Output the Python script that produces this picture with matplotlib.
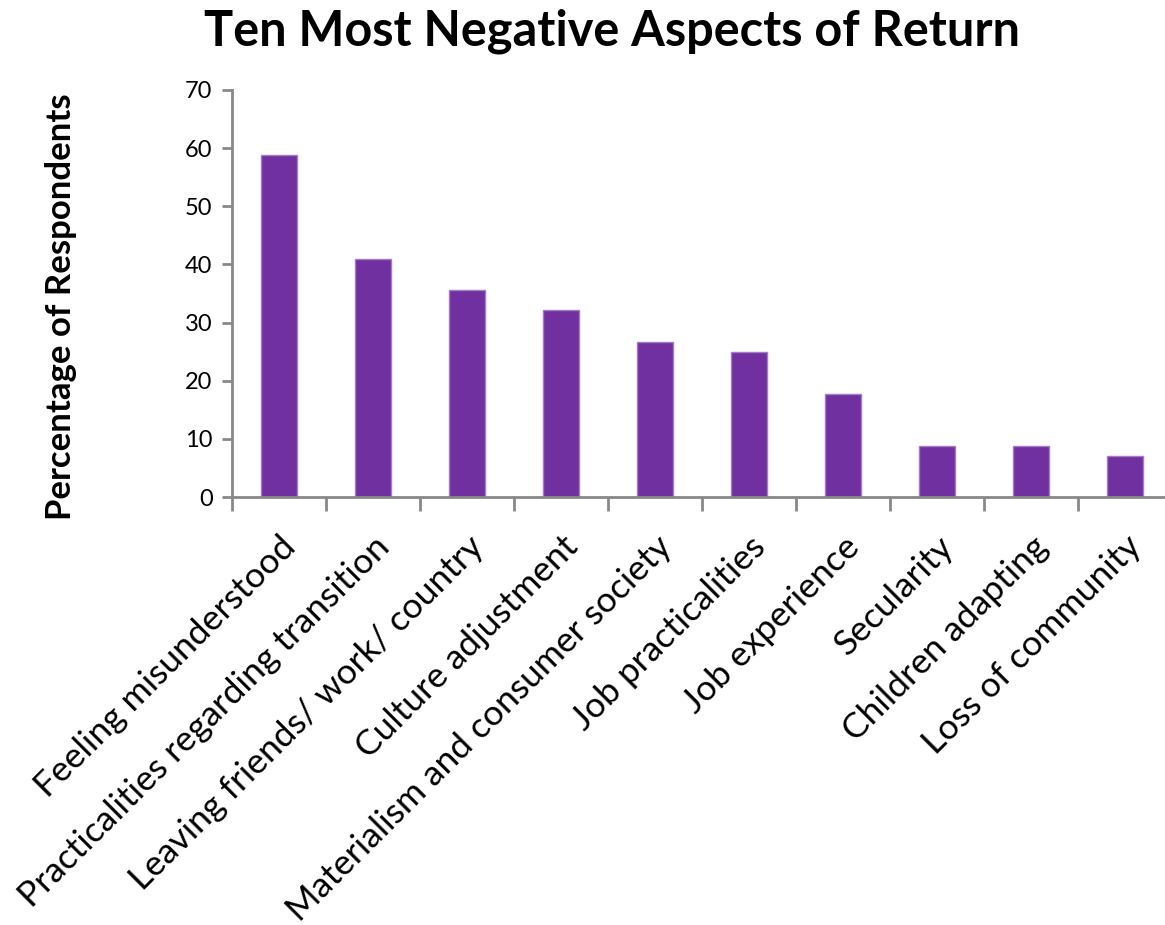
import numpy as np
import matplotlib
matplotlib.use('Agg')
import matplotlib.pyplot as plt

aspects = ['Feeling misunderstood', 'Practicalities regarding transition',
           'Leaving friends/ work/ country', 'Culture adjustment',
           'Materialism and consumer society', 'Job practicalities',
           'Job experience', 'Secularity', 'Children adapting',
           'Loss of community']
percent = [58.8, 41.0, 35.6, 32.1, 26.6, 24.9, 17.7, 8.8, 8.8, 7.1]
y_ticks = [0, 10, 20, 30, 40, 50, 60, 70]

plt.rcParams['font.family'] = ['Lato', 'DejaVu Sans']

fig = plt.figure(figsize=(11.65, 9.25), dpi=100)
ax = fig.add_axes([232 / 1165, 428 / 925, 940 / 1165, 407 / 925])

x = np.arange(len(aspects))
ax.bar(x, percent, width=0.38, color='#7030A0', edgecolor='#a67bc6', linewidth=1)

ax.set_xlim(-0.5, len(aspects) - 0.5)
ax.set_ylim(0, 70)
ax.set_yticks(y_ticks)
ax.tick_params(axis='y', labelsize=17, length=7, width=2, color='#888888', pad=7)

# ticks between the categories, labels under the bars
ax.set_xticks(np.arange(len(aspects) + 1) - 0.5)
ax.set_xticklabels([])
ax.tick_params(axis='x', length=10, width=2, color='#888888')
ax.set_xticks(x, minor=True)
ax.set_xticklabels(aspects, minor=True, rotation=45, ha='right',
                   rotation_mode='anchor', fontsize=25.5)
ax.tick_params(axis='x', which='minor', length=0, pad=24)

for side in ['top', 'right']:
    ax.spines[side].set_visible(False)
for side in ['left', 'bottom']:
    ax.spines[side].set_color('#888888')
    ax.spines[side].set_linewidth(2)

ax.set_ylabel('Percentage of Respondents', fontsize=25, fontweight='bold')
ax.yaxis.set_label_coords(-0.165, 0.467)
fig.text(0.525, 0.966, 'Ten Most Negative Aspects of Return', ha='center', va='center',
         fontsize=35, fontweight='bold')

plt.savefig('out.png', dpi=100)
